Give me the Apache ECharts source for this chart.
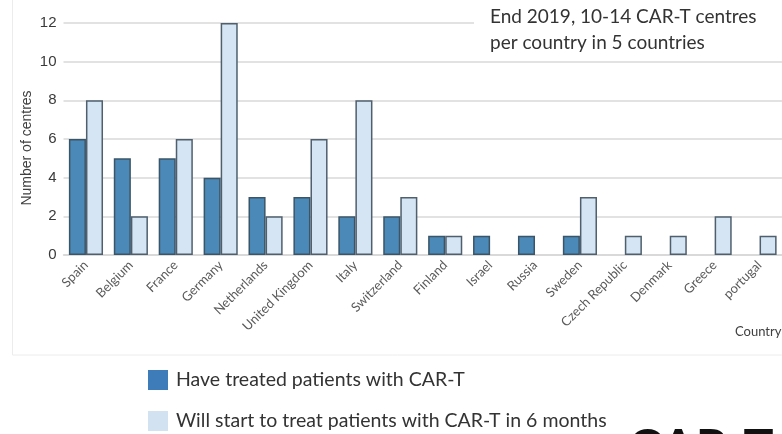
<!DOCTYPE html>
<html>
<head>
<meta charset="utf-8">
<script src="https://cdn.jsdelivr.net/npm/echarts@6/dist/echarts.min.js"></script>
<style>html,body{margin:0;padding:0;background:#fff;}#c{width:782px;height:434px;}</style>
</head>
<body>
<div id="c"></div>
<script>
const categories = ["Spain","Belgium","France","Germany","Netherlands","United Kingdom","Italy","Switzerland","Finland","Israel","Russia","Sweden","Czech Republic","Denmark","Greece","portugal"];
const treated = [6,5,5,4,3,3,2,2,1,1,1,1,0,0,0,0];
const willStart = [8,2,6,12,2,6,8,3,1,0,0,3,1,1,2,1];
const yTicks = [0,2,4,6,8,10,12];
const seriesNames = ["Have treated patients with CAR-T","Will start to treat patients with CAR-T in 6 months"];

const toBar = arr => arr.map(v => v === 0 ? '-' : v);

const chart = echarts.init(document.getElementById('c'), null, {renderer:'canvas'});
chart.setOption({
  animation:false,
  backgroundColor:'#fff',
  grid:{left:63.5,right:0,top:23,bottom:179,containLabel:false},
  xAxis:{
    type:'category',data:categories,
    axisLine:{show:true,lineStyle:{color:'#d6d6d6',width:1.5}},
    axisTick:{show:false},
    axisLabel:{rotate:45,interval:0,fontSize:13,color:'#5a5a5a',fontFamily:'Lato',margin:8}
  },
  yAxis:{
    type:'value',min:0,max:12,interval:2,
    name:'Number of centres',nameLocation:'middle',nameGap:29,nameMoveOverlap:false,
    nameTextStyle:{fontSize:14,color:'#404040',fontFamily:'Liberation Sans',padding:[0,0,0,-18]},
    axisLine:{show:false},axisTick:{show:false},
    axisLabel:{fontSize:15,color:'#3a3a3a',fontFamily:'Liberation Sans',margin:7,
      formatter:v=>yTicks.includes(v)?String(v):''},
    splitLine:{lineStyle:{color:'#d9d9d9',width:1.5}}
  },
  legend:{
    orient:'vertical',left:148,top:370,padding:0,itemWidth:20,itemHeight:20,itemGap:21,
    textStyle:{fontSize:19.5,color:'#333',fontFamily:'Lato',padding:[0,0,0,3]},
    data:[
      {name:seriesNames[0],icon:'rect',itemStyle:{color:'#3e7cb9',borderWidth:0}},
      {name:seriesNames[1],icon:'rect',itemStyle:{color:'#d3e2f1',borderWidth:0}}
    ]
  },
  series:[
    {name:seriesNames[0],type:'bar',data:toBar(treated),barGap:'0%',barCategoryGap:'24%',
     itemStyle:{color:'#4a89b8',borderColor:'#3b5567',borderWidth:1.5}},
    {name:seriesNames[1],type:'bar',data:toBar(willStart),
     itemStyle:{color:'#d5e5f3',borderColor:'#4f5f6e',borderWidth:1.5}}
  ],
  graphic:[
    {type:'rect',z:-1,shape:{x:12.5,y:-2,width:800,height:357},style:{fill:'none',stroke:'#ececec',lineWidth:1}},
    {type:'rect',z:10,shape:{x:474,y:0,width:308,height:55},style:{fill:'#fff'}},
    {type:'text',z:11,left:490,top:4,style:{text:'End 2019, 10-14 CAR-T centres\nper country in 5 countries',fontSize:19,lineHeight:26,fill:'#333',fontFamily:'Lato'}},
    {type:'text',z:11,left:735,top:325,style:{text:'Country',fontSize:13,fill:'#404040',fontFamily:'Lato'}},
    {type:'text',z:11,left:628,top:424,style:{text:'CAR-T',fontSize:50,fontWeight:'bold',fill:'#111',fontFamily:'Lato'}}
  ]
});
</script>
</body>
</html>
